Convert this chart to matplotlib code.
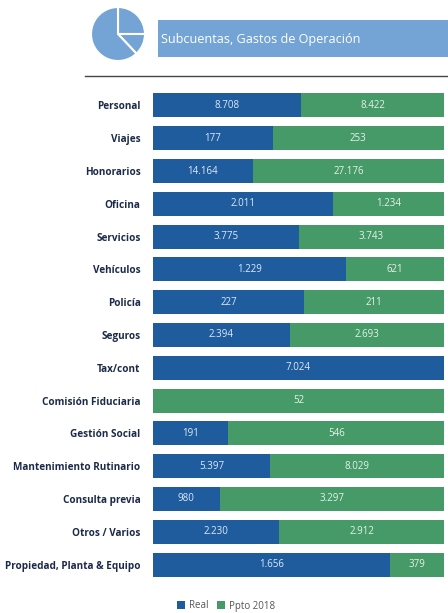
import matplotlib
matplotlib.use("Agg")
import matplotlib.pyplot as plt
import numpy as np

categories = ["Personal", "Viajes", "Honorarios", "Oficina", "Servicios", "Vehículos", "Policía", "Seguros",
              "Tax/cont", "Comisión Fiduciaria", "Gestión Social", "Mantenimiento Rutinario", "Consulta previa",
              "Otros / Varios", "Propiedad, Planta & Equipo"]
real = np.array([8708, 177, 14164, 2011, 3775, 1229, 227, 2394, 7024, 0, 191, 5397, 980, 2230, 1656])
ppto = np.array([8422, 253, 27176, 1234, 3743, 621, 211, 2693, 0, 52, 546, 8029, 3297, 2912, 379])
pie_values = [25, 13, 62]
title = "Subcuentas, Gastos de Operación"

W, H = 448.0, 613.0
BLUE = "#1f5c9e"
GREEN = "#459a68"
LIGHT = "#74a3d6"
NAVY = "#1c2a4a"

plt.rcParams["font.family"] = ["Open Sans", "DejaVu Sans"]


def fmt(v):
    return f"{v:,}".replace(",", ".")


fig = plt.figure(figsize=(W / 100, H / 100), dpi=100, facecolor="white")

# stacked bars
ax = fig.add_axes([153 / W, 1 - 581 / H, 291 / W, 492 / H])
total = real + ppto
share_real = real / total
share_ppto = ppto / total
y = np.arange(len(categories))
ax.barh(y, share_real, height=0.73, color=BLUE, label="Real")
ax.barh(y, share_ppto, height=0.73, left=share_real, color=GREEN, label="Ppto 2018")

for i in y:
    if real[i] > 0:
        ax.text(share_real[i] / 2, i, fmt(real[i]), color="#dfe9f5", fontsize=7,
                ha="center", va="center")
    if ppto[i] > 0:
        ax.text(share_real[i] + share_ppto[i] / 2, i, fmt(ppto[i]), color="#e6f2e9", fontsize=7,
                ha="center", va="center")

ax.set_xlim(0, 1)
ax.set_ylim(len(categories) - 0.5, -0.5)
ax.set_xticks([])
ax.set_yticks(y)
ax.set_yticklabels(categories, fontsize=7.2, fontweight="bold", color=NAVY)
ax.tick_params(axis="y", length=0, pad=9)
for s in ax.spines.values():
    s.set_visible(False)

handles, labels = ax.get_legend_handles_labels()
fig.legend(handles, labels, loc="center", bbox_to_anchor=(226 / W, 1 - 606 / H), ncol=2, frameon=False,
           fontsize=7, handlelength=0.8, handleheight=0.8, handletextpad=0.4, columnspacing=0.9,
           labelcolor="#555555")

# header icon
ax_pie = fig.add_axes([91 / W, 1 - 61 / H, 54 / W, 54 / H])
ax_pie.pie(pie_values, colors=[LIGHT] * 3, startangle=90, counterclock=False, radius=1.0,
           wedgeprops={"edgecolor": "white", "linewidth": 1.5})
ax_pie.set_xlim(-1, 1)
ax_pie.set_ylim(-1, 1)
ax_pie.set_aspect("equal")

# title band and rule
ax_top = fig.add_axes([0, 0, 1, 1], zorder=-1)
ax_top.set_xlim(0, W)
ax_top.set_ylim(H, 0)
ax_top.axis("off")
ax_top.fill_between([158, 448], 20, 57, color=LIGHT, linewidth=0)
ax_top.text(161, 39, title, color="white", fontsize=9.1, ha="left", va="center")
ax_top.plot([85, 448], [75.5, 75.5], color="#444444", linewidth=1)

fig.savefig("out.png", dpi=100)
